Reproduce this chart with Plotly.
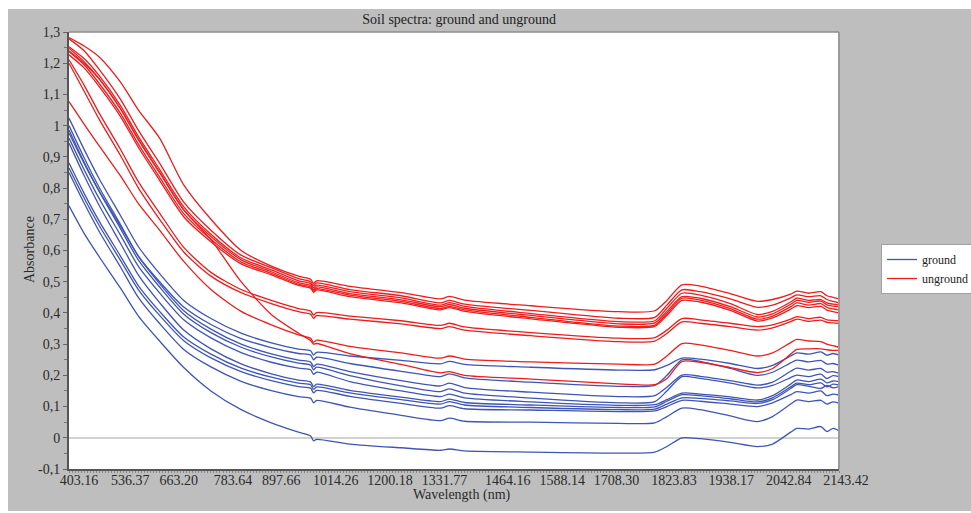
import plotly.graph_objects as go

# Spectral channel of each sampled point (detector channel index)
channel = [0, 5, 10, 17, 23, 30, 38, 47, 57, 67, 76, 80, 81, 82, 93, 110, 123, 126, 131,
           153, 182, 194, 198, 203, 209, 219, 228, 233, 239, 241, 245, 249, 251, 253, 255]

# Wavelength labels and the channel where each one falls
wavelength_labels = ["403.16", "536.37", "663.20", "783.64", "897.66", "1014.26", "1200.18",
                     "1331.77", "1464.16", "1588.14", "1708.30", "1823.83", "1938.17",
                     "2042.84", "2143.42"]
label_channel = [1, 18, 34, 52, 68, 86, 104, 122, 143, 161, 179, 198, 217, 236, 255]

# Absorbance tick labels (comma decimals)
y_ticks = [-0.1, 0, 0.1, 0.2, 0.3, 0.4, 0.5, 0.6, 0.7, 0.8, 0.9, 1.0, 1.1, 1.2, 1.3]
y_tick_text = ["-0,1", "0", "0,1", "0,2", "0,3", "0,4", "0,5", "0,6", "0,7", "0,8", "0,9",
               "1", "1,1", "1,2", "1,3"]

# Ground samples
g1 = [1.024, 0.924, 0.83, 0.713, 0.612, 0.526, 0.44, 0.382, 0.335, 0.304, 0.284, 0.279, 0.265, 0.274,
      0.262, 0.248, 0.237, 0.245, 0.235, 0.226, 0.217, 0.218, 0.232, 0.255, 0.252, 0.238, 0.222, 0.232,
      0.262, 0.272, 0.268, 0.275, 0.265, 0.27, 0.265]
g2 = [0.976, 0.879, 0.79, 0.679, 0.582, 0.50, 0.419, 0.363, 0.318, 0.289, 0.27, 0.265, 0.25, 0.258,
      0.238, 0.213, 0.196, 0.205, 0.192, 0.178, 0.165, 0.168, 0.2, 0.25, 0.245, 0.222, 0.20, 0.21,
      0.24, 0.249, 0.243, 0.248, 0.236, 0.238, 0.233]
g3 = [1.0, 0.897, 0.802, 0.684, 0.581, 0.494, 0.407, 0.348, 0.30, 0.269, 0.249, 0.243, 0.228, 0.236,
      0.212, 0.183, 0.166, 0.175, 0.161, 0.146, 0.132, 0.135, 0.162, 0.201, 0.197, 0.183, 0.169, 0.178,
      0.213, 0.223, 0.217, 0.222, 0.21, 0.212, 0.207]
g4 = [0.986, 0.883, 0.789, 0.671, 0.569, 0.483, 0.396, 0.337, 0.29, 0.259, 0.239, 0.233, 0.218, 0.226,
      0.199, 0.166, 0.148, 0.157, 0.143, 0.127, 0.112, 0.116, 0.15, 0.196, 0.19, 0.175, 0.16, 0.168,
      0.193, 0.201, 0.196, 0.204, 0.19, 0.199, 0.196]
g5 = [0.96, 0.859, 0.766, 0.65, 0.549, 0.464, 0.378, 0.32, 0.273, 0.242, 0.223, 0.218, 0.203, 0.21,
      0.18, 0.15, 0.132, 0.14, 0.128, 0.115, 0.104, 0.106, 0.122, 0.143, 0.14, 0.131, 0.121, 0.135,
      0.172, 0.185, 0.18, 0.188, 0.176, 0.182, 0.18]
g6 = [0.944, 0.84, 0.744, 0.624, 0.521, 0.433, 0.345, 0.285, 0.237, 0.205, 0.185, 0.179, 0.164, 0.172,
      0.152, 0.13, 0.116, 0.124, 0.113, 0.105, 0.097, 0.099, 0.117, 0.138, 0.135, 0.125, 0.115, 0.128,
      0.163, 0.175, 0.17, 0.176, 0.163, 0.172, 0.169]
g7 = [0.88, 0.783, 0.694, 0.583, 0.487, 0.405, 0.323, 0.268, 0.223, 0.194, 0.175, 0.17, 0.155, 0.163,
      0.144, 0.122, 0.108, 0.116, 0.105, 0.097, 0.09, 0.092, 0.108, 0.128, 0.126, 0.118, 0.11, 0.122,
      0.158, 0.17, 0.165, 0.158, 0.168, 0.16, 0.164]
g8 = [0.864, 0.768, 0.68, 0.569, 0.474, 0.392, 0.311, 0.256, 0.212, 0.183, 0.164, 0.159, 0.144, 0.152,
      0.133, 0.11, 0.095, 0.103, 0.093, 0.089, 0.084, 0.086, 0.1, 0.12, 0.117, 0.108, 0.10, 0.112,
      0.138, 0.148, 0.143, 0.15, 0.135, 0.14, 0.137]
g9 = [0.85, 0.752, 0.661, 0.548, 0.449, 0.366, 0.283, 0.227, 0.181, 0.151, 0.132, 0.127, 0.112, 0.12,
      0.098, 0.072, 0.055, 0.063, 0.053, 0.05, 0.046, 0.048, 0.068, 0.095, 0.09, 0.07, 0.052, 0.068,
      0.108, 0.121, 0.116, 0.12, 0.108, 0.115, 0.111]
g10 = [0.743, 0.655, 0.58, 0.48, 0.39, 0.31, 0.225, 0.15, 0.09, 0.048, 0.018, 0.006, -0.01, -0.005,
       -0.02, -0.032, -0.04, -0.036, -0.042, -0.046, -0.049, -0.046, -0.028, 0.0, -0.003, -0.015, -0.028, -0.02,
       0.018, 0.03, 0.028, 0.036, 0.02, 0.03, 0.022]

# Unground samples
u1 = [1.282, 1.255, 1.22, 1.14, 1.05, 0.96, 0.81, 0.70, 0.60, 0.55, 0.518, 0.508, 0.495, 0.503,
      0.485, 0.465, 0.445, 0.453, 0.441, 0.423, 0.404, 0.407, 0.44, 0.49, 0.486, 0.462, 0.437, 0.443,
      0.46, 0.47, 0.463, 0.468, 0.455, 0.45, 0.445]
u2 = [1.278, 1.24, 1.18, 1.085, 0.985, 0.88, 0.755, 0.665, 0.585, 0.545, 0.51, 0.50, 0.488, 0.496,
      0.475, 0.455, 0.432, 0.44, 0.428, 0.408, 0.383, 0.386, 0.425, 0.474, 0.468, 0.445, 0.418, 0.425,
      0.448, 0.458, 0.452, 0.455, 0.443, 0.437, 0.432]
u3 = [1.253, 1.215, 1.16, 1.065, 0.965, 0.86, 0.74, 0.652, 0.576, 0.538, 0.503, 0.494, 0.481, 0.489,
      0.468, 0.448, 0.425, 0.433, 0.421, 0.398, 0.372, 0.375, 0.415, 0.463, 0.457, 0.43, 0.395, 0.405,
      0.435, 0.447, 0.44, 0.443, 0.432, 0.428, 0.425]
u4 = [1.248, 1.205, 1.15, 1.055, 0.955, 0.85, 0.73, 0.645, 0.57, 0.532, 0.497, 0.488, 0.475, 0.483,
      0.462, 0.442, 0.42, 0.427, 0.415, 0.392, 0.365, 0.368, 0.405, 0.452, 0.447, 0.42, 0.387, 0.397,
      0.428, 0.44, 0.434, 0.438, 0.426, 0.422, 0.42]
u5 = [1.237, 1.195, 1.135, 1.04, 0.94, 0.835, 0.718, 0.636, 0.563, 0.527, 0.492, 0.483, 0.47, 0.478,
      0.457, 0.437, 0.414, 0.421, 0.41, 0.386, 0.358, 0.361, 0.398, 0.447, 0.441, 0.414, 0.38, 0.39,
      0.42, 0.432, 0.425, 0.43, 0.418, 0.413, 0.41]
u6 = [1.227, 1.185, 1.125, 1.03, 0.93, 0.825, 0.708, 0.628, 0.557, 0.522, 0.488, 0.479, 0.466, 0.474,
      0.452, 0.432, 0.41, 0.417, 0.405, 0.381, 0.354, 0.357, 0.392, 0.44, 0.435, 0.408, 0.374, 0.384,
      0.412, 0.423, 0.417, 0.421, 0.409, 0.404, 0.40]
u7 = [1.211, 1.13, 1.04, 0.925, 0.82, 0.72, 0.61, 0.53, 0.475, 0.44, 0.414, 0.406, 0.393, 0.401,
      0.39, 0.375, 0.36, 0.367, 0.355, 0.337, 0.319, 0.321, 0.345, 0.382, 0.378, 0.367, 0.356, 0.362,
      0.38, 0.388, 0.382, 0.386, 0.378, 0.376, 0.375]
u8 = [1.20, 1.11, 1.02, 0.905, 0.80, 0.70, 0.595, 0.518, 0.465, 0.43, 0.404, 0.396, 0.383, 0.391,
      0.38, 0.365, 0.35, 0.356, 0.345, 0.327, 0.308, 0.31, 0.334, 0.371, 0.367, 0.356, 0.345, 0.352,
      0.372, 0.38, 0.373, 0.377, 0.37, 0.368, 0.367]
u9 = [1.077, 1.005, 0.935, 0.84, 0.75, 0.665, 0.565, 0.475, 0.405, 0.362, 0.33, 0.319, 0.306, 0.313,
      0.293, 0.272, 0.255, 0.262, 0.252, 0.243, 0.236, 0.236, 0.262, 0.302, 0.298, 0.28, 0.262, 0.272,
      0.305, 0.315, 0.31, 0.308, 0.3, 0.295, 0.29]
u10 = [1.24, 1.20, 1.15, 1.055, 0.955, 0.85, 0.73, 0.635, 0.50, 0.395, 0.335, 0.312, 0.30, 0.302,
       0.27, 0.235, 0.208, 0.212, 0.2, 0.188, 0.173, 0.17, 0.19, 0.245, 0.242, 0.225, 0.209, 0.222,
       0.268, 0.283, 0.285, 0.285, 0.282, 0.28, 0.28]

ground = [g1, g2, g3, g4, g5, g6, g7, g8, g9, g10]
unground = [u1, u2, u3, u4, u5, u6, u7, u8, u9, u10]

BLUE = "#3f55b4"
RED = "#ee1c1c"
SERIF = "Liberation Serif, Times New Roman, serif"
GRAY = "#bebebe"

fig = go.Figure()

for name, color, group in (("ground", BLUE, ground), ("unground", RED, unground)):
    for i, spectrum in enumerate(group):
        fig.add_trace(go.Scatter(
            x=channel, y=spectrum, mode="lines", name=name,
            legendgroup=name, showlegend=(i == 0),
            line=dict(color=color, width=1.3, shape="spline", smoothing=0.7),
            hoverinfo="skip",
        ))

# Plot area geometry (pixels) used to place frame pieces in paper units
W, H = 971, 513
L, R, T, B = 69, 132, 32, 44
pw, ph = W - L - R, H - T - B


def px_x(px):
    return (px - L) / pw


def px_y(py):
    return (H - B - py) / ph


shapes = [
    # white page margins around the gray frame
    dict(type="rect", xref="paper", yref="paper", x0=px_x(-5), x1=px_x(8), y0=px_y(H + 5), y1=px_y(-5),
         fillcolor="white", line=dict(width=0), layer="below"),
    dict(type="rect", xref="paper", yref="paper", x0=px_x(-5), x1=px_x(W + 5), y0=px_y(9), y1=px_y(-5),
         fillcolor="white", line=dict(width=0), layer="below"),
    dict(type="rect", xref="paper", yref="paper", x0=px_x(-5), x1=px_x(W + 5), y0=px_y(H + 5), y1=px_y(511),
         fillcolor="white", line=dict(width=0), layer="below"),
    # light top and right border of the plot area
    dict(type="line", xref="paper", yref="paper", x0=0, x1=1, y0=1, y1=1,
         line=dict(color="#8c8c8c", width=1.5)),
    dict(type="line", xref="paper", yref="paper", x0=1, x1=1, y0=0, y1=1,
         line=dict(color="#9a9a9a", width=2)),
]

fig.update_layout(
    width=W, height=H,
    margin=dict(l=L, r=R, t=T, b=B, pad=0, autoexpand=False),
    paper_bgcolor=GRAY,
    plot_bgcolor="white",
    font=dict(family=SERIF, size=14, color="#2a2a2a"),
    title=dict(text="Soil spectra: ground and unground", x=492 / W, xref="paper", xanchor="center",
               y=1 - 19 / H, yanchor="middle", font=dict(family=SERIF, size=14, color="#222")),
    showlegend=True,
    legend=dict(x=px_x(881), y=px_y(244), xanchor="left", yanchor="top",
                bgcolor="white", bordercolor="#a0a0a0", borderwidth=1,
                font=dict(family=SERIF, size=12, color="#222"), itemwidth=30,
                tracegroupgap=0),
    shapes=shapes,
    annotations=[
        dict(text="Absorbance", xref="paper", yref="paper", x=px_x(30), y=px_y(250),
             textangle=-90, showarrow=False, xanchor="center", yanchor="middle",
             font=dict(family=SERIF, size=14, color="#2a2a2a")),
        dict(text="Wavelength (nm)", xref="paper", yref="paper", x=px_x(462), y=px_y(495),
             showarrow=False, xanchor="center", yanchor="middle",
             font=dict(family=SERIF, size=14, color="#2a2a2a")),
    ],
)

fig.update_xaxes(
    range=[0, 255], showgrid=False, zeroline=False,
    showline=True, linecolor="#555555", linewidth=2,
    tickmode="array", tickvals=label_channel, ticktext=wavelength_labels,
    ticks="", ticklabelshift=7, ticklabelstandoff=-3,
    tickfont=dict(family=SERIF, size=14, color="#2a2a2a"),
    minor=dict(ticks="outside", dtick=1, ticklen=2, tickcolor="#888888", showgrid=False),
)
fig.update_yaxes(
    range=[-0.1, 1.3], showgrid=False,
    zeroline=True, zerolinecolor="#d2d2d2", zerolinewidth=2,
    showline=True, linecolor="#555555", linewidth=2,
    tickmode="array", tickvals=y_ticks, ticktext=y_tick_text,
    ticks="outside", ticklen=4, tickcolor="#666666",
    tickfont=dict(family=SERIF, size=14, color="#2a2a2a"),
    minor=dict(ticks="outside", dtick=0.05, ticklen=3, tickcolor="#777777", showgrid=False),
)

fig.write_html("out.html")
